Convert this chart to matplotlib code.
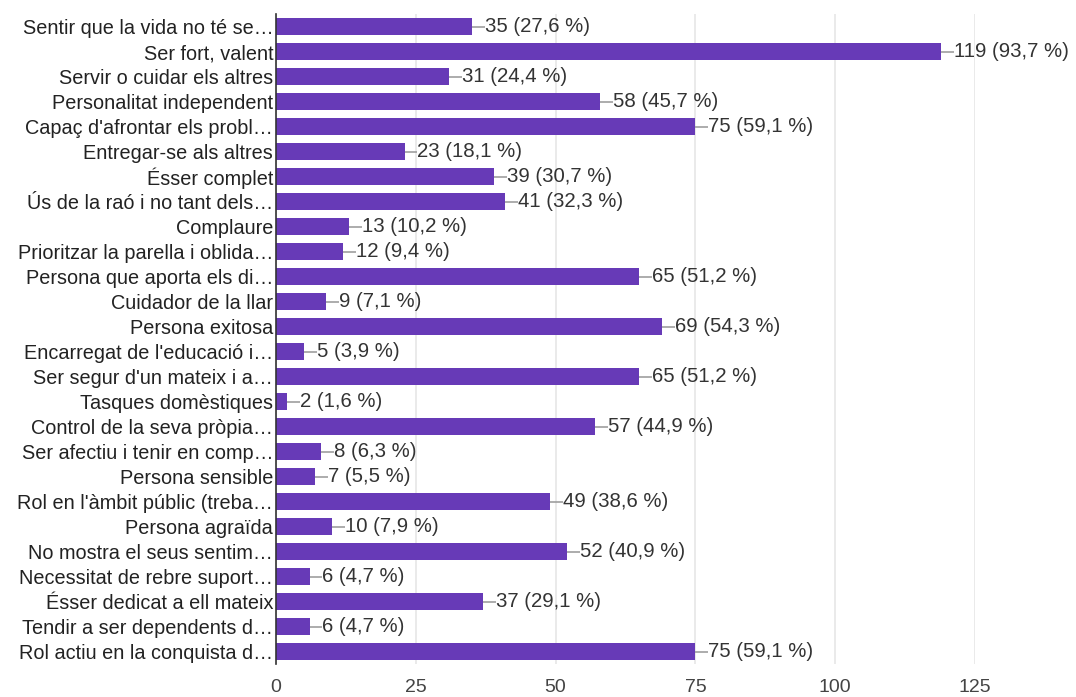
import matplotlib
matplotlib.use("Agg")
import matplotlib.pyplot as plt

categories = [
    "Sentir que la vida no té se…",
    "Ser fort, valent",
    "Servir o cuidar els altres",
    "Personalitat independent",
    "Capaç d'afrontar els probl…",
    "Entregar-se als altres",
    "Ésser complet",
    "Ús de la raó i no tant dels…",
    "Complaure",
    "Prioritzar la parella i oblida…",
    "Persona que aporta els di…",
    "Cuidador de la llar",
    "Persona exitosa",
    "Encarregat de l'educació i…",
    "Ser segur d'un mateix i a…",
    "Tasques domèstiques",
    "Control de la seva pròpia…",
    "Ser afectiu i tenir en comp…",
    "Persona sensible",
    "Rol en l'àmbit públic (treba…",
    "Persona agraïda",
    "No mostra el seus sentim…",
    "Necessitat de rebre suport…",
    "Ésser dedicat a ell mateix",
    "Tendir a ser dependents d…",
    "Rol actiu en la conquista d…",
]
counts = [35, 119, 31, 58, 75, 23, 39, 41, 13, 12, 65, 9, 69, 5, 65, 2, 57, 8, 7, 49, 10, 52, 6, 37, 6, 75]
percents = ["27,6", "93,7", "24,4", "45,7", "59,1", "18,1", "30,7", "32,3", "10,2", "9,4",
            "51,2", "7,1", "54,3", "3,9", "51,2", "1,6", "44,9", "6,3", "5,5", "38,6",
            "7,9", "40,9", "4,7", "29,1", "4,7", "59,1"]
xticks = [0, 25, 50, 75, 100, 125]

plt.rcParams['font.family'] = ['Liberation Sans', 'DejaVu Sans']

fig = plt.figure(figsize=(10.76, 6.97), dpi=100)
ax = fig.add_axes([276/1076, 1 - 664/697, (975 - 276)/1076, (664 - 14)/697])

bar_color = "#673ab7"
n = len(categories)
ypos = list(range(n))
ax.barh(ypos, counts, height=0.66, color=bar_color, zorder=3)

for y, c, p in zip(ypos, counts, percents):
    ax.plot([c, c + 2.3], [y, y], color="#9e9e9e", lw=1.2, zorder=3, solid_capstyle="butt")
    ax.text(c + 2.3, y, f"{c} ({p} %)", va="center", ha="left", fontsize=14.7,
            color="#333333", zorder=4)

ax.set_ylim(n - 0.5, -0.5)
ax.set_xlim(0, 125)
ax.set_xticks(xticks)
ax.set_yticks(ypos)
ax.set_yticklabels(categories, fontsize=14.3, color="#222222")
ax.tick_params(axis="x", length=0, labelsize=14, labelcolor="#444444", pad=11)
ax.tick_params(axis="y", length=0, pad=2)
ax.xaxis.grid(True, color="#e6e6e6", lw=1.2, zorder=0)
ax.set_axisbelow(True)
for s in ["top", "right", "bottom"]:
    ax.spines[s].set_visible(False)
ax.spines["left"].set_color("#333333")
ax.spines["left"].set_linewidth(1.2)
ax.spines["left"].set_zorder(5)

fig.savefig("out.png", dpi=100)
